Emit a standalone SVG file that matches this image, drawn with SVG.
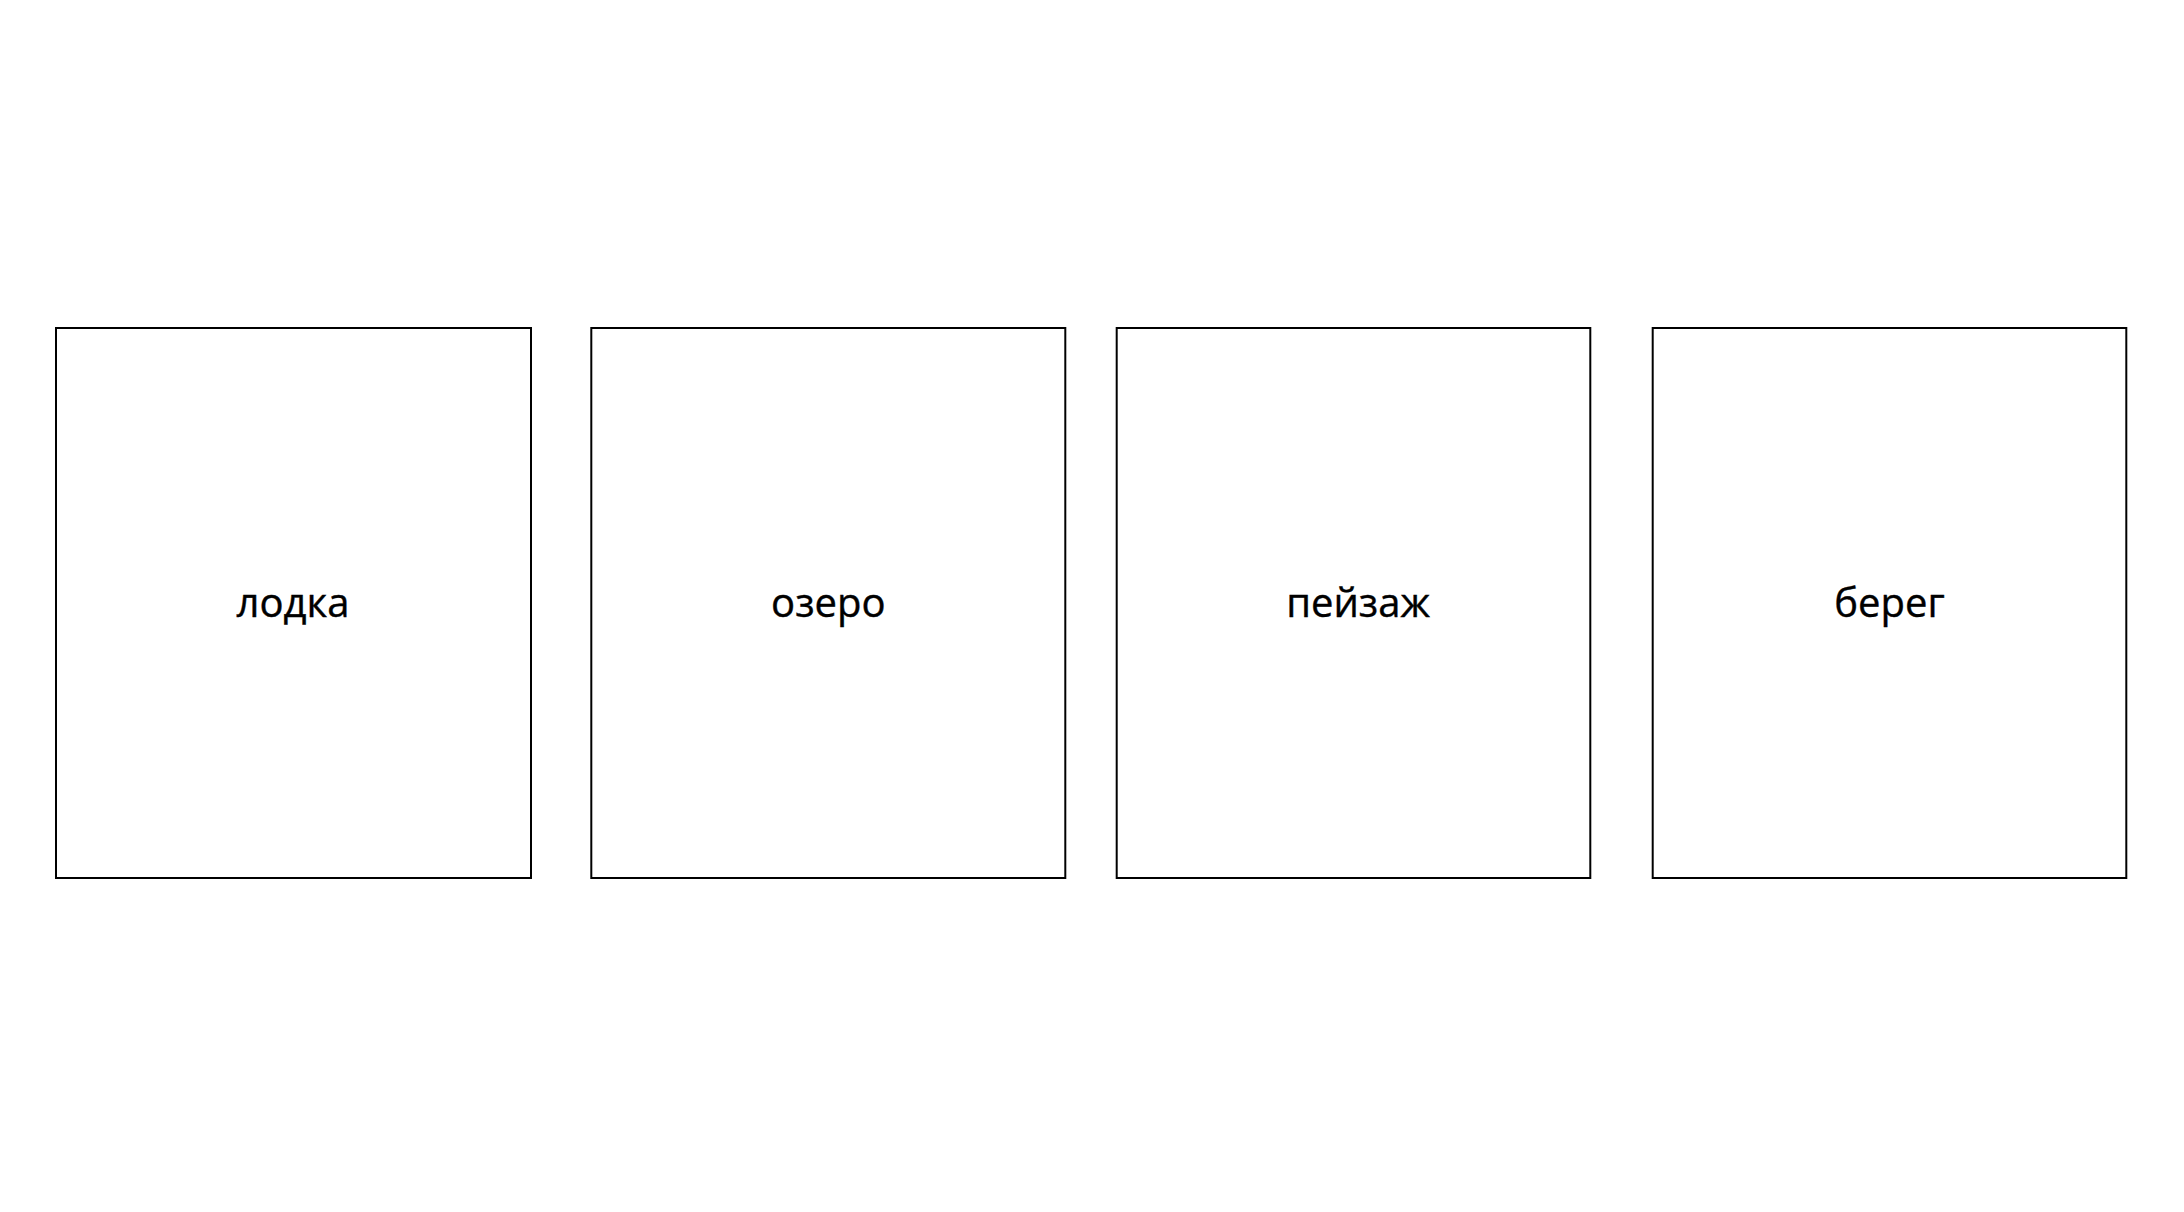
<svg xmlns="http://www.w3.org/2000/svg" width="2184" height="1212" viewBox="0 0 2184 1212">
<style>
.box{fill:#ffffff;stroke:#000000;stroke-width:2}
.lbl{font-family:"Open Sans","Noto Sans","DejaVu Sans",sans-serif;font-size:40px;fill:#000000;text-anchor:middle;stroke:#000000;stroke-width:0.4}
</style>
<rect width="2184" height="1212" fill="#ffffff"/>
<g id="node-lodka">
<rect class="box" x="56" y="328" width="475" height="550"/>
<text class="lbl" x="293" y="617">лодка</text>
</g>
<g id="node-ozero">
<rect class="box" x="591.3" y="328" width="474" height="550"/>
<text class="lbl" x="828.3" y="617">озеро</text>
</g>
<g id="node-peyzazh">
<rect class="box" x="1116.7" y="328" width="473.6" height="550"/>
<text class="lbl" x="1358" y="617">пейзаж</text>
</g>
<g id="node-bereg">
<rect class="box" x="1652.7" y="328" width="473.6" height="550"/>
<text class="lbl" x="1889.5" y="617">берег</text>
</g>
<g id="connectors"/>
</svg>
